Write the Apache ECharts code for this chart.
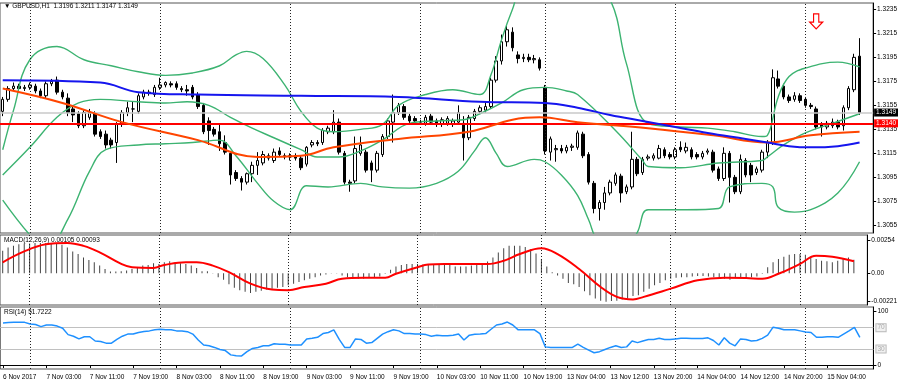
<!DOCTYPE html>
<html><head><meta charset="utf-8">
<script src="https://cdn.jsdelivr.net/npm/echarts@6/dist/echarts.min.js"></script>
<style>html,body{margin:0;padding:0;background:#fff}#c{width:900px;height:384px}</style>
</head><body><div id="c"></div>
<script>
// ---------- data ----------
const tickLabels = ["6 Nov 2017","7 Nov 03:00","7 Nov 11:00","7 Nov 19:00","8 Nov 03:00","8 Nov 11:00","8 Nov 19:00","9 Nov 03:00","9 Nov 11:00","9 Nov 19:00","10 Nov 03:00","10 Nov 11:00","10 Nov 19:00","13 Nov 04:00","13 Nov 12:00","13 Nov 20:00","14 Nov 04:00","14 Nov 12:00","14 Nov 20:00","15 Nov 04:00"];
const dayStarts = [5, 29, 53, 77, 100, 124, 148];
const priceTicks = [1.3055,1.3075,1.3095,1.3115,1.3135,1.3155,1.3175,1.3195,1.3215,1.3235];
const macdTicks = [0.00254, 0, -0.00221];
const rsiTicks = [0, 100];
const rsiLevels = [70, 30];
const bidPrice = 1.3149;
const levelPrice = 1.3140;
const arrowAt = [150, 1.3225];

const open = [1.3150,1.3160,1.3169,1.3171,1.3169,1.3170,1.3171,1.3167,1.3163,1.3173,1.3176,1.3166,1.3161,1.3152,1.3148,1.3138,1.3145,1.3148,1.3133,1.3131,1.3126,1.3124,1.3139,1.3149,1.3152,1.3150,1.3162,1.3166,1.3164,1.3170,1.3172,1.3173,1.3173,1.3169,1.3168,1.3170,1.3164,1.3155,1.3142,1.3135,1.3133,1.3124,1.3115,1.3099,1.3094,1.3091,1.3098,1.3105,1.3107,1.3111,1.3109,1.3117,1.3113,1.3112,1.3113,1.3111,1.3106,1.3122,1.3124,1.3124,1.3133,1.3133,1.3141,1.3115,1.3091,1.3092,1.3115,1.3116,1.3107,1.3101,1.3114,1.3129,1.3141,1.3149,1.3154,1.3146,1.3144,1.3141,1.3140,1.3146,1.3142,1.3139,1.3140,1.3139,1.3141,1.3140,1.3128,1.3144,1.3150,1.3151,1.3154,1.3176,1.3192,1.3208,1.3216,1.3197,1.3194,1.3195,1.3193,1.3193,1.3170,1.3116,1.3118,1.3119,1.3117,1.3120,1.3120,1.3131,1.3114,1.3090,1.3069,1.3074,1.3082,1.3090,1.3096,1.3083,1.3087,1.3110,1.3099,1.3111,1.3111,1.3111,1.3118,1.3114,1.3112,1.3120,1.3117,1.3118,1.3114,1.3112,1.3116,1.3116,1.3102,1.3094,1.3115,1.3095,1.3083,1.3109,1.3105,1.3099,1.3101,1.3116,1.3124,1.3177,1.3171,1.3162,1.3160,1.3163,1.3160,1.3155,1.3152,1.3139,1.3137,1.3138,1.3141,1.3138,1.3153,1.3168,1.3196];
const high = [1.3162,1.3171,1.3174,1.3173,1.3172,1.3174,1.3173,1.3169,1.3175,1.3177,1.3179,1.3168,1.3165,1.3154,1.3150,1.3151,1.3152,1.3150,1.3135,1.3134,1.3128,1.3141,1.3151,1.3158,1.3158,1.3165,1.3168,1.3168,1.3172,1.3178,1.3175,1.3175,1.3175,1.3171,1.3172,1.3172,1.3166,1.3157,1.3145,1.3137,1.3140,1.3130,1.3117,1.3101,1.3096,1.3099,1.3108,1.3116,1.3117,1.3115,1.3119,1.3120,1.3115,1.3115,1.3115,1.3113,1.3121,1.3126,1.3126,1.3136,1.3138,1.3151,1.3144,1.3117,1.3093,1.3129,1.3129,1.3118,1.3109,1.3117,1.3131,1.3144,1.3164,1.3157,1.3156,1.3148,1.3146,1.3143,1.3147,1.3148,1.3144,1.3145,1.3146,1.3144,1.3155,1.3146,1.3147,1.3152,1.3155,1.3157,1.3178,1.3196,1.3214,1.3222,1.3220,1.3200,1.3198,1.3198,1.3197,1.3195,1.3172,1.3129,1.3122,1.3122,1.3122,1.3123,1.3134,1.3133,1.3116,1.3092,1.3076,1.3087,1.3093,1.3099,1.3098,1.3089,1.3133,1.3112,1.3112,1.3114,1.3115,1.3122,1.3120,1.3116,1.3120,1.3125,1.3124,1.3120,1.3116,1.3117,1.3119,1.3118,1.3104,1.3120,1.3117,1.3097,1.3114,1.3111,1.3107,1.3104,1.3118,1.3126,1.3185,1.3184,1.3173,1.3164,1.3166,1.3165,1.3162,1.3157,1.3154,1.3141,1.3142,1.3144,1.3143,1.3155,1.3171,1.3198,1.3211];
const low = [1.3146,1.3158,1.3167,1.3166,1.3167,1.3168,1.3165,1.3161,1.3161,1.3171,1.3164,1.3160,1.3146,1.3141,1.3136,1.3136,1.3143,1.3129,1.3127,1.3119,1.3119,1.3107,1.3137,1.3146,1.3141,1.3148,1.3160,1.3163,1.3162,1.3168,1.3170,1.3170,1.3168,1.3166,1.3163,1.3160,1.3152,1.3131,1.3122,1.3129,1.3117,1.3114,1.3089,1.3092,1.3084,1.3089,1.3091,1.3097,1.3105,1.3109,1.3107,1.3112,1.3110,1.3109,1.3109,1.3101,1.3104,1.3120,1.3121,1.3122,1.3131,1.3131,1.3114,1.3089,1.3083,1.3090,1.3113,1.3099,1.3091,1.3099,1.3112,1.3127,1.3124,1.3147,1.3143,1.3140,1.3140,1.3139,1.3138,1.3139,1.3137,1.3137,1.3138,1.3137,1.3139,1.3109,1.3126,1.3142,1.3148,1.3149,1.3152,1.3174,1.3189,1.3204,1.3200,1.3190,1.3191,1.3191,1.3190,1.3184,1.3114,1.3109,1.3108,1.3115,1.3115,1.3117,1.3118,1.3111,1.3089,1.3065,1.3059,1.3068,1.3080,1.3088,1.3074,1.3081,1.3085,1.3096,1.3097,1.3109,1.3109,1.3110,1.3111,1.3110,1.3110,1.3116,1.3115,1.3110,1.3110,1.3110,1.3114,1.3099,1.3092,1.3092,1.3074,1.3081,1.3081,1.3095,1.3091,1.3097,1.3099,1.3111,1.3122,1.3169,1.3160,1.3157,1.3158,1.3157,1.3153,1.3152,1.3135,1.3129,1.3135,1.3136,1.3135,1.3134,1.3151,1.3166,1.3147];
const close = [1.3160,1.3169,1.3171,1.3169,1.3170,1.3172,1.3167,1.3163,1.3173,1.3175,1.3166,1.3162,1.3149,1.3147,1.3138,1.3149,1.3149,1.3131,1.3129,1.3122,1.3122,1.3139,1.3149,1.3153,1.3152,1.3163,1.3166,1.3165,1.3170,1.3172,1.3174,1.3172,1.3170,1.3168,1.3167,1.3162,1.3154,1.3133,1.3134,1.3131,1.3123,1.3116,1.3097,1.3094,1.3091,1.3098,1.3105,1.3109,1.3114,1.3113,1.3116,1.3114,1.3112,1.3113,1.3111,1.3103,1.3120,1.3124,1.3123,1.3134,1.3136,1.3141,1.3116,1.3091,1.3090,1.3119,1.3122,1.3101,1.3101,1.3115,1.3129,1.3142,1.3149,1.3155,1.3145,1.3142,1.3142,1.3141,1.3145,1.3141,1.3139,1.3143,1.3144,1.3142,1.3149,1.3128,1.3145,1.3150,1.3153,1.3154,1.3176,1.3192,1.3208,1.3218,1.3203,1.3194,1.3195,1.3193,1.3194,1.3186,1.3117,1.3127,1.3119,1.3117,1.3120,1.3121,1.3132,1.3113,1.3091,1.3069,1.3074,1.3082,1.3091,1.3097,1.3082,1.3087,1.3110,1.3098,1.3110,1.3112,1.3113,1.3119,1.3113,1.3112,1.3118,1.3118,1.3120,1.3112,1.3112,1.3115,1.3117,1.3101,1.3094,1.3115,1.3095,1.3083,1.3110,1.3097,1.3097,1.3102,1.3116,1.3124,1.3178,1.3171,1.3162,1.3159,1.3163,1.3159,1.3155,1.3154,1.3137,1.3137,1.3140,1.3141,1.3137,1.3153,1.3169,1.3195,1.3149];

const maBlue = [[0,1.3176],[18,1.3174],[25,1.3166],[36,1.3164],[55,1.3163],[73,1.3162],[88,1.3158],[100,1.3157],[106,1.3153],[112,1.3147],[118,1.3142],[124,1.3137],[130,1.3132],[137,1.3127],[141,1.3124],[145,1.3121],[149,1.3120],[154,1.3121],[158,1.3124]];
const maOrange = [[0,1.3169],[11,1.3157],[22,1.3141],[36,1.3126],[47,1.3112],[55,1.3113],[61,1.3120],[73,1.3127],[86,1.3133],[94,1.3143],[99,1.3145],[106,1.3141],[119,1.3136],[131,1.3130],[141,1.3124],[149,1.3130],[158,1.3133]];
const bbUpper = [[0,1.3118],[2,1.3151],[5,1.3193],[10,1.3204],[15,1.3193],[20,1.3188],[25,1.3183],[30,1.3180],[35,1.3182],[40,1.3188],[43,1.3197],[45,1.3200],[48,1.3194],[52,1.3172],[55,1.3150],[58,1.3136],[61,1.3133],[66,1.3135],[70,1.3139],[73,1.3155],[78,1.3164],[83,1.3168],[88,1.3164],[90,1.3180],[92,1.3210],[94,1.3235],[96,1.3255],[104,1.3262],[108,1.3255],[112,1.3243],[115,1.3190],[119,1.3140],[125,1.3137],[130,1.3136],[135,1.3133],[140,1.3129],[141,1.3130],[142.7,1.3162],[144.5,1.3179],[148,1.3186],[154,1.3191],[158,1.3187]];
const bbMiddle = [[0,1.3097],[5,1.3120],[10,1.3145],[14,1.3157],[18,1.3160],[25,1.3158],[30,1.3157],[34,1.3158],[38,1.3155],[42,1.3145],[46,1.3136],[50,1.3128],[55,1.3118],[58,1.3112],[62,1.3112],[66,1.3117],[70,1.3126],[75,1.3140],[80,1.3142],[85,1.3143],[88,1.3148],[92,1.3157],[96,1.3168],[100,1.3170],[104,1.3167],[106,1.3164],[112.5,1.3134],[117.5,1.3109],[119,1.3104],[125,1.3103],[132,1.3107],[139.6,1.3109],[141,1.3112],[144,1.3122],[148,1.3132],[153,1.3140],[158,1.3148]];
const bbLower = [[0,1.3076],[5,1.3047],[8,1.3035],[12,1.3060],[16,1.3100],[19,1.3118],[25,1.3122],[30,1.3123],[35,1.3124],[40,1.3126],[43,1.3113],[47,1.3090],[50,1.3075],[53,1.3068],[56,1.3088],[60,1.3087],[66,1.3090],[70,1.3087],[75,1.3086],[80,1.3090],[84,1.3100],[87,1.3117],[89,1.3128],[91,1.3115],[93,1.3104],[98,1.3110],[100,1.3108],[103,1.3097],[106,1.3080],[108,1.3060],[110,1.3040],[114,1.3030],[117,1.3049],[119,1.3068],[126,1.3068],[132,1.3069],[133.5,1.3087],[140,1.3090],[142,1.3087],[143.3,1.3070],[146.4,1.3066],[149.4,1.3068],[154.3,1.3082],[158,1.3108]];

const macdMain = [0.00174,0.00200,0.00213,0.00226,0.00231,0.00231,0.00236,0.00236,0.00236,0.00231,0.00231,0.00221,0.00200,0.00169,0.00149,0.00123,0.00103,0.00085,0.00059,0.00033,0.00013,0.00013,0.00015,0.00021,0.00033,0.00046,0.00059,0.00064,0.00077,0.00072,0.00085,0.00092,0.00085,0.00077,0.00072,0.00059,0.00041,0.00015,0.00015,-0.00002,-0.00031,-0.00051,-0.00087,-0.00113,-0.00133,-0.00146,-0.00154,-0.00146,-0.00138,-0.00128,-0.00121,-0.00113,-0.00108,-0.00095,-0.00082,-0.00069,-0.00056,-0.00044,-0.00031,-0.00018,-0.00010,-0.00003,0.00002,-0.00018,-0.00031,-0.00036,-0.00044,-0.00044,-0.00036,-0.00031,-0.00026,-0.00005,0.00026,0.00051,0.00064,0.00072,0.00072,0.00072,0.00067,0.00064,0.00064,0.00064,0.00064,0.00072,0.00051,0.00051,0.00051,0.00059,0.00064,0.00072,0.00090,0.00123,0.00162,0.00195,0.00213,0.00213,0.00213,0.00205,0.00187,0.00154,0.00110,0.00051,0.00008,-0.00018,-0.00044,-0.00077,-0.00087,-0.00108,-0.00141,-0.00172,-0.00197,-0.00215,-0.00223,-0.00218,-0.00215,-0.00205,-0.00197,-0.00179,-0.00172,-0.00146,-0.00121,-0.00095,-0.00077,-0.00056,-0.00044,-0.00036,-0.00031,-0.00031,-0.00026,-0.00023,-0.00023,-0.00026,-0.00031,-0.00036,-0.00044,-0.00051,-0.00031,-0.00031,-0.00031,-0.00031,-0.00026,-0.00005,0.00046,0.00085,0.00110,0.00128,0.00144,0.00149,0.00149,0.00144,0.00128,0.00110,0.00097,0.00092,0.00085,0.00097,0.00118,0.00123,0.00105];
const macdSignal = [[0,0.00085],[4,0.00170],[8,0.00225],[12,0.00236],[15,0.00213],[18,0.00162],[22,0.00072],[24,0.00046],[28,0.00041],[30,0.00064],[34,0.00085],[36,0.00085],[39,0.00059],[42,0.00008],[46,-0.00082],[50,-0.00128],[53,-0.00133],[56,-0.00108],[60,-0.00082],[63,-0.00044],[67,-0.00036],[71,-0.00036],[73,-0.00005],[77,0.00046],[79,0.00067],[82,0.00072],[90,0.00072],[93,0.00097],[96,0.00149],[100,0.00195],[103,0.00149],[107,0.00033],[111,-0.00108],[114,-0.00185],[117,-0.00205],[119,-0.00185],[124,-0.00121],[129,-0.00056],[134,-0.00036],[138,-0.00038],[141,-0.00044],[144,-0.00005],[148,0.00072],[151,0.00136],[154,0.00128],[158,0.00093]];

const rsi = [79,79.5,80,80,80,77,76,72,75,75,73,69,57,54,49,53,53,45,44,41,41,48,54,58,58,61,63,64,66,67,66,66,64,64,62.5,58,47,37.5,36,33,29,27,19,17.5,17,25,31,33,36,36,40,39,39,37.5,37.5,37.5,49,50,52,59,61,66,48,33,33,49,48,41,42,50,58,62.5,66,64,59,59,58,58,57,54,56,55,55,56,58,47,56,57.5,58,59,67,75,77,80.6,75,66,66,66,66,59,34,33,33,33,33,33,39,33,28,23,25,29,33,36,33,34,45,42,45,48,48,50,48,48,49,50,50,49.5,49.5,49.5,51,46,37.5,51,41,36,49,48,45,46,50,56,71,69,66,66,66,64,62,61,52,52,53,53,52,58,64,70.6,51.7222];

// ---------- build ----------
const N = 161;
const cats = Array.from({length: N}, (_, i) => String(i));
const candles = open.map((o, i) => [o, close[i], low[i], high[i]]);
const FONT = '"Liberation Sans", Arial, sans-serif';
const FS = 6.5;

const vLines = dayStarts.map(x => ({xAxis: x}));
const dotted = {type: [1, 2], color: '#222', width: 1};

function xAx(gi, showLabels) {
  return {
    type: 'category', gridIndex: gi, data: cats, boundaryGap: true,
    axisLine: {show: showLabels, lineStyle: {color: '#000'}},
    axisTick: {show: showLabels, length: 3, alignWithLabel: true, interval: (i) => i % 8 === 0 && i / 8 < tickLabels.length},
    axisLabel: {show: showLabels, interval: (i) => i % 8 === 0 && i / 8 < tickLabels.length,
      formatter: (v, i) => tickLabels[i / 8] || '', align: 'left', fontSize: FS, fontFamily: FONT, color: '#000', margin: 5},
    splitLine: {show: false}
  };
}

const chart = echarts.init(document.getElementById('c'), null, {renderer: 'canvas'});
chart.setOption({
  animation: false,
  backgroundColor: '#fff',
  grid: [
    {left: 0, width: 873.4, top: 3, height: 230, show: true, borderColor: '#555', borderWidth: 1},
    {left: 0, width: 873.4, top: 235, height: 70, show: true, borderColor: '#555', borderWidth: 1},
    {left: 0, width: 873.4, top: 307, height: 62, show: true, borderColor: '#555', borderWidth: 1}
  ],
  xAxis: [xAx(0, false), xAx(1, false), xAx(2, true)],
  yAxis: [
    {type: 'value', gridIndex: 0, position: 'right', min: 1.30486, max: 1.32403,
      splitLine: {show: false}, axisLine: {show: true, lineStyle: {color: '#000'}},
      axisTick: {show: true, length: 3, customValues: priceTicks},
      axisLabel: {customValues: priceTicks, formatter: v => v.toFixed(4), fontSize: FS, fontFamily: FONT, color: '#000', margin: 4}},
    {type: 'value', gridIndex: 1, position: 'right', min: -0.002485, max: 0.002977,
      splitLine: {show: false}, axisLine: {show: true, lineStyle: {color: '#000'}},
      axisTick: {show: true, length: 3, customValues: macdTicks},
      axisLabel: {customValues: macdTicks, formatter: v => v === 0 ? '0.00' : v.toFixed(5), fontSize: FS, fontFamily: FONT, color: '#000', margin: 4}},
    {type: 'value', gridIndex: 2, position: 'right', min: -7.5, max: 108.8,
      splitLine: {show: false}, axisLine: {show: true, lineStyle: {color: '#000'}},
      axisTick: {show: true, length: 3, customValues: rsiTicks},
      axisLabel: {customValues: rsiTicks, formatter: v => String(v), fontSize: FS, fontFamily: FONT, color: '#000', margin: 4}}
  ],
  series: [
    {type: 'candlestick', xAxisIndex: 0, yAxisIndex: 0, data: candles, barWidth: 3, z: 3,
      itemStyle: {color: '#fff', color0: '#000', borderColor: '#000', borderColor0: '#000', borderWidth: 1},
      markPoint: {silent: true, data: [{coord: arrowAt, symbol: 'path://M3,0 L7,0 L7,6 L10,6 L5,11 L0,6 L3,6 Z', symbolSize: [13, 15],
        itemStyle: {color: '#fff', borderColor: '#ff0000', borderWidth: 1.2}, label: {show: false}}]}
    },
    {type: 'line', xAxisIndex: 0, yAxisIndex: 0, data: bbUpper, smooth: 0.4, symbol: 'none', z: 4, lineStyle: {color: '#3cb371', width: 1.4}},
    {type: 'line', xAxisIndex: 0, yAxisIndex: 0, data: bbMiddle, smooth: 0.4, symbol: 'none', z: 4, lineStyle: {color: '#3cb371', width: 1.4}},
    {type: 'line', xAxisIndex: 0, yAxisIndex: 0, data: bbLower, smooth: 0.4, symbol: 'none', z: 4, lineStyle: {color: '#3cb371', width: 1.4}},
    {type: 'line', xAxisIndex: 0, yAxisIndex: 0, data: maOrange, smooth: 0.4, symbol: 'none', z: 5, lineStyle: {color: '#ff4500', width: 2}},
    {type: 'line', xAxisIndex: 0, yAxisIndex: 0, data: maBlue, smooth: 0.4, symbol: 'none', z: 5, lineStyle: {color: '#1515ee', width: 2},
      markLine: {silent: true, symbol: 'none', animation: false, precision: 5,
        data: [
          ...vLines.map(d => ({...d, lineStyle: dotted, label: {show: false}})),
          {yAxis: bidPrice, lineStyle: {color: '#c8c8c8', width: 1.5, type: 'solid'},
            label: {show: true, position: 'end', distance: 1, formatter: bidPrice.toFixed(4), color: '#fff', backgroundColor: '#000', padding: [1, 2, 0, 2], fontSize: FS, fontFamily: FONT}},
          {yAxis: levelPrice, lineStyle: {color: '#ff0000', width: 2, type: 'solid'},
            label: {show: true, position: 'end', distance: 1, formatter: levelPrice.toFixed(4), color: '#fff', backgroundColor: '#ff0000', padding: [1, 2, 0, 2], fontSize: FS, fontFamily: FONT}}
        ]}},
    {type: 'bar', xAxisIndex: 1, yAxisIndex: 1, data: macdMain, barWidth: 1, itemStyle: {color: '#444'},
      markLine: {silent: true, symbol: 'none', data: vLines.map(d => ({...d, lineStyle: dotted, label: {show: false}}))}},
    {type: 'line', xAxisIndex: 1, yAxisIndex: 1, data: macdSignal, smooth: 0.4, symbol: 'none', z: 5, lineStyle: {color: '#ff0000', width: 2}},
    {type: 'line', xAxisIndex: 2, yAxisIndex: 2, data: rsi, symbol: 'none', z: 5, lineStyle: {color: '#1e90ff', width: 1.5},
      markLine: {silent: true, symbol: 'none', precision: 2, data: [
        ...vLines.map(d => ({...d, lineStyle: dotted, label: {show: false}})),
        ...rsiLevels.map(v => ({yAxis: v, lineStyle: {color: '#c0c0c0', width: 1, type: 'solid'},
          label: {show: true, position: 'end', distance: 3, formatter: String(v), color: '#aaa', backgroundColor: '#f0f0f0', borderColor: '#bbb', borderWidth: 1, padding: [0, 1], fontSize: FS, fontFamily: FONT}}))
      ]}}
  ],
  graphic: [
    {type: 'text', left: 4, top: 3, style: {text: '\u25BC GBPUSD,H1  1.3196 1.3211 1.3147 1.3149', fontSize: FS, fontFamily: FONT, fill: '#000'}},
    {type: 'text', left: 4, top: 237, style: {text: 'MACD(12,26,9) 0.00105 0.00093', fontSize: FS, fontFamily: FONT, fill: '#000'}},
    {type: 'text', left: 4, top: 309, style: {text: 'RSI(14) 51.7222', fontSize: FS, fontFamily: FONT, fill: '#000'}}
  ]
});
</script>
</body></html>
